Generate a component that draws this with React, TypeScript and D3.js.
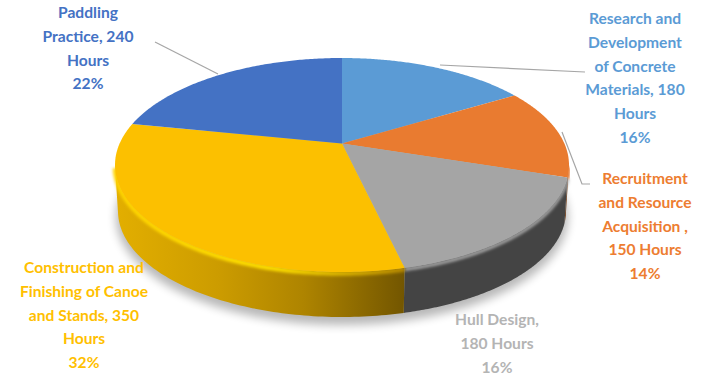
import React from "react";
import * as d3 from "d3";

// Hours spent on each project phase, clockwise from twelve o'clock.
const phases = [
  "Research and Development of Concrete Materials",
  "Recruitment and Resource Acquisition",
  "Hull Design",
  "Construction and Finishing of Canoe and Stands",
  "Paddling Practice",
];
const hours = [180, 150, 180, 350, 240];
const percents = ["16%", "14%", "16%", "32%", "22%"];
const topColors = ["#5b9bd5", "#e97b30", "#a5a5a5", "#fcc000", "#4472c4"];
const wallColors = ["#3b6a94", "#6e3a14", "#444444", "url(#wallGold)", "#2c4a80"];
const labelColors = ["#5b9bd5", "#ed7d31", "#b4b4b4", "#ffc000", "#4472c4"];

const labelLines = [
  ["Research and", "Development", "of Concrete", "Materials, 180", "Hours"],
  ["Recruitment", "and Resource", "Acquisition ,", "150 Hours"],
  ["Hull Design,", "180 Hours"],
  ["Construction and", "Finishing of Canoe", "and Stands, 350", "Hours"],
  ["Paddling", "Practice, 240", "Hours"],
];
const labelAnchors = [
  { x: 635, y: 24 },
  { x: 645, y: 184 },
  { x: 497, y: 325 },
  { x: 84, y: 273 },
  { x: 88, y: 18 },
];
const leaders = [
  "M440,65 L585,72",
  "M562,132 L582,184 L590,184",
  "M155,42 L218,74",
];

const WIDTH = 717;
const HEIGHT = 377;
const LINE_HEIGHT = 23.8;
const face = { cx: 342, cy: 165, rx: 227, ry: 107 };
const base = { cx: 342, cy: 211, rx: 224, ry: 106 };
// Perspective tilt: the pie's centre sits this far up the face, in units of ry.
const TILT = -0.2;

// Projects a pie angle (0 = up, clockwise) onto the unit disc seen in perspective.
function project(angle: number): [number, number] {
  const x = Math.sin(angle);
  const y = -Math.cos(angle);
  const d = 1 + TILT * y;
  return [(x * Math.sqrt(1 - TILT * TILT)) / d, (y + TILT) / d];
}

const onFace = ([u, v]: [number, number]) => [face.cx + face.rx * u, face.cy + face.ry * v];
const onBase = ([u, v]: [number, number]) => [base.cx + base.rx * u, base.cy + base.ry * v];

const arcs = d3.pie<number>().sort(null)(hours);

function rimSamples(start: number, end: number) {
  return d3.range(0, 121).map((i) => project(start + ((end - start) * i) / 120));
}

const line = d3.line();

export default function App() {
  const apex = onFace([0, TILT]);
  return (
    <svg
      width={WIDTH}
      height={HEIGHT}
      style={{ position: "absolute", left: 0, top: 0, background: "#fff" }}
      fontFamily="Lato, 'Open Sans', sans-serif"
      fontWeight={700}
      fontSize={15.6}
    >
      <defs>
        <filter id="groundShadow" x="-20%" y="-20%" width="140%" height="140%">
          <feGaussianBlur stdDeviation="5" />
        </filter>
        <filter id="edgeSoft" x="-10%" y="-10%" width="120%" height="120%">
          <feGaussianBlur stdDeviation="1.4" />
        </filter>
        <linearGradient id="wallGold" gradientUnits="userSpaceOnUse" x1={118} x2={404} y1={0} y2={0}>
          <stop offset="0" stopColor="#e2ae00" />
          <stop offset="0.35" stopColor="#cc9c00" />
          <stop offset="0.65" stopColor="#ae8400" />
          <stop offset="1" stopColor="#735600" />
        </linearGradient>
        <linearGradient id="bevelGold" gradientUnits="userSpaceOnUse" x1={115} x2={404} y1={0} y2={0}>
          <stop offset="0" stopColor="#ffd400" />
          <stop offset="0.55" stopColor="#ffe000" />
          <stop offset="1" stopColor="#b88a00" />
        </linearGradient>
      </defs>

      <ellipse cx={base.cx} cy={base.cy + 6} rx={base.rx + 2} ry={base.ry + 2} fill="#000" opacity={0.28} filter="url(#groundShadow)" />

      {/* Outer wall of each slice, only where the rim faces the viewer */}
      {arcs.map((a, i) => {
        const front = rimSamples(a.startAngle, a.endAngle).filter((p) => p[1] >= 0);
        if (front.length < 2) return null;
        const outline = [...front.map(onFace), ...front.slice().reverse().map(onBase)];
        return <path key={phases[i]} d={`${line(outline as [number, number][])}Z`} fill={wallColors[i]} />;
      })}

      {/* Rounded bevel where the wall meets the top face */}
      {arcs.map((a, i) => {
        const front = rimSamples(a.startAngle, a.endAngle).filter((p) => p[1] >= 0);
        if (front.length < 2) return null;
        const bevel = i === 3 ? "url(#bevelGold)" : topColors[i];
        const pts = front.map(onFace).map(([x, y]) => [x, y + 1.5]) as [number, number][];
        return (
          <path key={phases[i]} d={line(pts) as string} fill="none" stroke={bevel} strokeWidth={i === 3 ? 4.5 : 3.5} filter="url(#edgeSoft)" />
        );
      })}

      {/* Top face */}
      {arcs.map((a, i) => {
        const rim = rimSamples(a.startAngle, a.endAngle).map(onFace);
        return <path key={phases[i]} d={`${line([apex, ...rim] as [number, number][])}Z`} fill={topColors[i]} />;
      })}

      {leaders.map((d) => (
        <path key={d} d={d} fill="none" stroke="#a6a6a6" strokeWidth={1.2} />
      ))}

      {labelLines.map((lines, i) => (
        <text key={phases[i]} x={labelAnchors[i].x} y={labelAnchors[i].y} textAnchor="middle" fill={labelColors[i]}>
          {lines.map((t, j) => (
            <tspan key={t} x={labelAnchors[i].x} y={labelAnchors[i].y + j * LINE_HEIGHT}>
              {t}
            </tspan>
          ))}
          <tspan x={labelAnchors[i].x} y={labelAnchors[i].y + lines.length * LINE_HEIGHT}>
            {percents[i]}
          </tspan>
        </text>
      ))}
    </svg>
  );
}
